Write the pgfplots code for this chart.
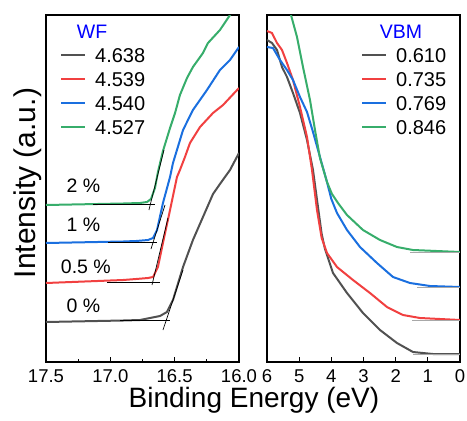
\documentclass[border=0pt]{standalone}
\usepackage{fontspec}
\setmainfont{Liberation Sans}
\usepackage{pgfplots}
\pgfplotsset{compat=1.18}
\definecolor{cblack}{HTML}{515151}
\definecolor{cred}{HTML}{F14040}
\definecolor{cblue}{HTML}{1A6FDF}
\definecolor{cgreen}{HTML}{37AD6B}
\definecolor{tgray}{HTML}{A8A8A8}

\tikzset{curve/.style={line width=2pt}, tang/.style={black, line width=0.7pt}}
\pgfplotsset{
  panel/.style={
    scale only axis, width=193pt, height=347pt,
    x dir=reverse, ymin=0, ymax=347, ytick=\empty,
    tick align=inside, xtick pos=bottom,
    major tick length=5pt, minor tick length=3pt,
    axis line style={line width=1.1pt},
    every tick/.style={black, line width=1pt},
    xticklabel style={anchor=base, yshift=-20pt, font=\fontsize{18.5}{20}\selectfont},
    /pgf/number format/assume math mode=true,
    no marks,
    legend style={draw=none, fill=none, inner sep=0pt, row sep=9.7pt, column sep=9pt,
      font=\fontsize{20}{24}\selectfont,
      nodes={inner sep=0pt, text height=14.3pt, text depth=0pt}},
    legend cell align=left,
    legend image code/.code={\draw[#1] (0pt,0pt) -- (24pt,0pt);},
  }
}

\begin{document}
\begin{tikzpicture}
\useasboundingbox (0pt,0pt) rectangle (467pt,-421pt);

% work function cutoff
\begin{axis}[panel, at={(46pt,-362pt)}, anchor=south west,
  xmin=16, xmax=17.5, xtick={16,16.5,17,17.5}, minor tick num=1,
  xticklabel style={/pgf/number format/.cd, fixed, fixed zerofill, precision=1},
  legend style={at={(0.0725,0.905)}, anchor=north west}]
\addplot[curve, cblack] coordinates {(17.5,40) (17.3,40.5) (17.1,41) (16.9,41.5) (16.769,42) (16.614,46) (16.560,50) (16.513,62) (16.435,95) (16.358,122) (16.280,145) (16.202,168) (16.148,178) (16.070,192) (16.0,209)};
\addplot[curve, cred] coordinates {(17.5,79) (17.3,80) (17.1,81) (16.9,82) (16.8,83) (16.707,84) (16.668,85) (16.630,95) (16.591,119) (16.536,152) (16.482,185) (16.459,192) (16.420,205) (16.381,219) (16.303,235) (16.202,249) (16.124,257) (16.0,274)};
\addplot[curve, cblue] coordinates {(17.5,119) (17.3,119.5) (17.1,120) (16.9,120.5) (16.8,121) (16.707,122) (16.668,124) (16.637,132) (16.591,159) (16.536,185) (16.513,199) (16.435,232) (16.358,252) (16.249,272) (16.148,292) (16.070,302) (16.0,315)};
\addplot[curve, cgreen] coordinates {(17.5,157) (17.3,157.5) (17.1,158) (16.9,158.5) (16.769,159) (16.715,160) (16.684,163) (16.653,174) (16.630,190) (16.591,211) (16.536,234) (16.497,249) (16.459,267) (16.404,284) (16.358,295) (16.280,309) (16.241,319) (16.148,332) (16.070,347) (16.0,359)};
\legend{4.638, 4.539, 4.540, 4.527}
% tangent lines
\addplot[tang, forget plot] coordinates {(16.925,42) (16.536,42)};
\addplot[tang, forget plot] coordinates {(16.591,32) (16.435,92)};
\addplot[tang, forget plot] coordinates {(17.026,80) (16.614,80)};
\addplot[tang, forget plot] coordinates {(16.676,77) (16.552,144)};
\addplot[tang, forget plot] coordinates {(17.018,120) (16.637,120)};
\addplot[tang, forget plot] coordinates {(16.684,113) (16.575,157)};
\addplot[tang, forget plot] coordinates {(17.135,158) (16.653,158)};
\addplot[tang, forget plot] coordinates {(16.700,152) (16.583,212)};
\begin{scope}[font=\fontsize{19.5}{22}\selectfont]
\node at (axis cs:17.21,176) {2 \%};
\node at (axis cs:17.21,137) {1 \%};
\node at (axis cs:17.19,95) {0.5 \%};
\node at (axis cs:17.21,56) {0 \%};
\end{scope}
\end{axis}

% valence band maximum
\begin{axis}[panel, at={(267pt,-362pt)}, anchor=south west,
  xmin=0, xmax=6, xtick={0,1,2,3,4,5,6},
  legend style={at={(0.487,0.905)}, anchor=north west}]
\addplot[curve, cblack] coordinates {(6.0,322) (5.845,319) (5.689,312) (5.534,295) (5.378,285) (5.192,269) (4.974,249) (4.756,222) (4.570,192) (4.415,155) (4.300,128) (4.197,113) (3.948,89) (3.513,69) (3.016,49) (2.487,32) (1.959,19) (1.462,10) (0.840,8) (0.0,8)};
\addplot[curve, cred] coordinates {(6.0,331) (5.845,329) (5.689,319) (5.534,312) (5.378,299) (5.192,282) (4.974,255) (4.756,225) (4.601,192) (4.446,152) (4.300,124) (4.135,109) (3.824,95) (3.327,82) (2.798,69) (2.270,55) (1.772,47) (1.244,44) (0.0,42)};
\addplot[curve, cblue] coordinates {(6.0,315) (5.813,314) (5.596,302) (5.378,292) (5.192,282) (4.974,265) (4.756,250) (4.570,230) (4.353,205) (4.135,180) (4.000,163) (3.824,149) (3.513,132) (3.109,115) (2.581,99) (2.083,85) (1.555,79) (0.933,76) (0.0,75)};
\addplot[curve, cgreen] coordinates {(6.0,436) (5.596,388) (5.254,347) (5.067,325) (4.881,295) (4.663,262) (4.508,232) (4.353,204) (4.135,180) (3.980,168) (3.793,159) (3.513,147) (3.016,132) (2.487,122) (1.959,115) (1.462,112) (0.0,110)};
\legend{0.610, 0.735, 0.769, 0.846}
\addplot[tgray, line width=1pt, forget plot] coordinates {(1.46,8) (0,8)};
\addplot[tgray, line width=1pt, forget plot] coordinates {(1.49,42) (0,42)};
\addplot[tgray, line width=1pt, forget plot] coordinates {(1.34,75) (0,75)};
\addplot[tgray, line width=1pt, forget plot] coordinates {(1.55,110) (0,110)};
\end{axis}

\node[blue, font=\fontsize{19.5}{22}\selectfont] at (92pt,-32pt) {WF};
\node[blue, font=\fontsize{19.5}{22}\selectfont] at (401pt,-32pt) {VBM};
\node[anchor=base, font=\fontsize{28}{30}\selectfont] at (254pt,-407pt) {Binding Energy (eV)};
\node[anchor=base, rotate=90, font=\fontsize{30}{32}\selectfont] at (35pt,-183pt) {Intensity (a.u.)};
\end{tikzpicture}
\end{document}
